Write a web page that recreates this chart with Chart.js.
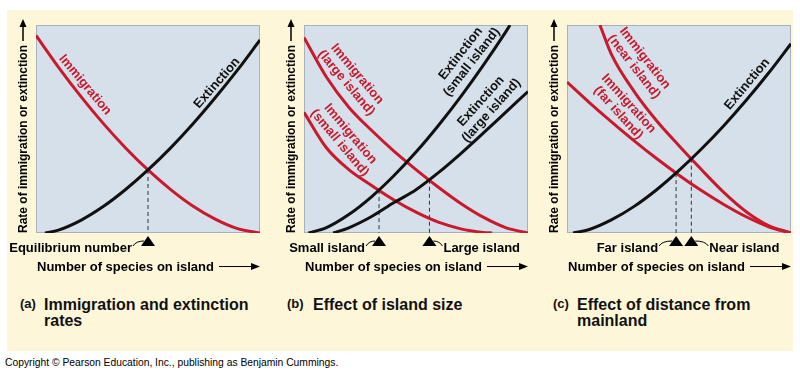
<!DOCTYPE html>
<html><head><meta charset="utf-8">
<script src="https://cdn.jsdelivr.net/npm/chart.js@4.4.1/dist/chart.umd.min.js"></script>
<style>
html,body{margin:0;padding:0;background:#fff;width:800px;height:374px;overflow:hidden;font-family:"Liberation Sans",Arial,sans-serif;color:#111;}
#cream{position:absolute;left:7px;top:10px;width:786px;height:341px;background:#fdf6d8;}
canvas{position:absolute;top:0;}
.tag{position:absolute;font-weight:bold;font-size:13px;line-height:13px;white-space:nowrap;}
.cap{position:absolute;font-weight:bold;font-size:16px;line-height:16px;white-space:nowrap;}
#copy{position:absolute;left:5px;top:357px;font-size:10.3px;line-height:12px;white-space:nowrap;color:#000;}
</style></head>
<body>
<div id="cream"></div>
<canvas id="pa" width="270" height="280" style="left:0px"></canvas>
<canvas id="pb" width="270" height="280" style="left:270px"></canvas>
<canvas id="pc" width="260" height="280" style="left:540px"></canvas>
<div class="tag" style="left:20px;top:297px">(a)</div>
<div class="cap" style="left:44px;top:297px">Immigration and extinction<br>rates</div>
<div class="tag" style="left:287px;top:297px">(b)</div>
<div class="cap" style="left:313px;top:297px">Effect of island size</div>
<div class="tag" style="left:553px;top:297px">(c)</div>
<div class="cap" style="left:577px;top:297px">Effect of distance from<br>mainland</div>
<div id="copy">Copyright © Pearson Education, Inc., publishing as Benjamin Cummings.</div>
<script>
// ---- text ----
const xTitle = 'Number of species on island';
const yTitle = 'Rate of immigration or extinction';

// ---- panel (a) ----
const aImmX = [0,1,2,3,4,5,6,7,8,9,10];
const aImmY = [9.5,7.98,6.57,5.27,4.09,3.03,2.10,1.30,0.67,0.21,0];
const aExtX = [0.4,1,2,3,4,5,6,7,8,9,10];
const aExtY = [0,0.14,0.61,1.27,2.09,3.03,4.08,5.24,6.50,7.84,9.28];
const aEqX = [5.0];
const aEqY = [3.03];
const aEqLabels = ['Equilibrium number'];

// ---- panel (b) ----
const bImmLargeX = [0,1,2,3,4,5,6,7,8,9,10];
const bImmLargeY = [9.4,7.5,6.05,4.95,3.95,3.05,2.2,1.42,0.76,0.26,0];
const bImmSmallX = [0,1,2,3,4,5,6,7,8,8.4];
const bImmSmallY = [5.8,4.1,3.05,2.3,1.6,1.0,0.52,0.2,0.03,0];
const bExtSmallX = [0.2,1,2,3,4,5,6,7,8,9,9.2];
const bExtSmallY = [0,0.26,0.89,1.73,2.74,3.89,5.17,6.56,8.06,9.66,10];
const bExtLargeX = [1.3,2,3,4,5,6,7,8,9,10];
const bExtLargeY = [0,0.25,0.78,1.45,2.08,2.9,3.82,4.8,5.8,6.8];
const bEqX = [3.35,5.6];
const bEqY = [2.06,2.56];
const bEqLabels = ['Small island','Large island'];

// ---- panel (c) ----
const cImmNearX = [1.47,2,3,4,5,6,7,8,9,10];
const cImmNearY = [10,8.55,6.8,5.4,4.2,3.05,1.95,1.02,0.35,0];
const cImmFarX = [0,1,2,3,4,5,6,7,8,9,10];
const cImmFarY = [7.26,6.27,5.33,4.43,3.58,2.78,2.04,1.37,0.78,0.30,0];
const cExtX = [0.27,1,2,3,4,5,6,7,8,9,10];
const cExtY = [0,0.17,0.64,1.28,2.08,3.01,4.04,5.16,6.38,7.69,9.10];
const cEqX = [4.87,5.55];
const cEqY = [2.88,3.57];
const cEqLabels = ['Far island','Near island'];

const RED = '#c9192c', BLACK = '#111111';
const FONT = '"Liberation Sans", Arial, sans-serif';

function pts(xs, ys){ return xs.map((x,i)=>({x:x,y:ys[i]})); }
function curve(xs, ys, color){
  return {data:pts(xs,ys), borderColor:color, borderWidth:3, showLine:true, pointRadius:0,
          cubicInterpolationMode:'monotone', fill:false};
}
function dashes(eqX, eqY){
  return eqX.map((x,i)=>({data:[{x:x,y:eqY[i]},{x:x,y:0}], borderColor:'#333', borderWidth:1,
          borderDash:[4,3], showLine:true, pointRadius:0, fill:false}));
}

function overlay(cfg){
  return {
    id:'overlay',
    beforeDatasetsDraw(chart){
      const {ctx, chartArea:ca} = chart;
      ctx.save();
      ctx.fillStyle = '#d6e0ea';
      ctx.fillRect(ca.left, ca.top, ca.right-ca.left, ca.bottom-ca.top);
      ctx.strokeStyle = '#a7b2bd'; ctx.lineWidth = 1;
      ctx.strokeRect(ca.left+0.5, ca.top+0.5, ca.right-ca.left-1, ca.bottom-ca.top-1);
      ctx.restore();
    },
    afterDatasetsDraw(chart){
      const {ctx, chartArea:ca, scales} = chart;
      const xs = scales.x, ys = scales.y;
      ctx.save();
      cfg.curveLabels.forEach(l=>{
        const px = xs.getPixelForValue(l.x), py = ys.getPixelForValue(l.y);
        ctx.save(); ctx.translate(px,py); ctx.rotate(l.angle*Math.PI/180);
        ctx.font = 'bold 13px '+FONT; ctx.fillStyle = l.color;
        ctx.textAlign = 'center'; ctx.textBaseline = 'middle';
        const n = l.lines.length;
        l.lines.forEach((t,i)=>ctx.fillText(t, 0, (i-(n-1)/2)*14));
        ctx.restore();
      });
      ctx.fillStyle = '#000'; ctx.strokeStyle = '#000';
      cfg.eqX.forEach((v,i)=>{
        const px = xs.getPixelForValue(v);
        const t = ca.bottom+3;
        ctx.beginPath(); ctx.moveTo(px,t); ctx.lineTo(px+7,t+10); ctx.lineTo(px-7,t+10); ctx.closePath(); ctx.fill();
        const side = cfg.sides[i];
        ctx.font = 'bold 13px '+FONT; ctx.textBaseline = 'alphabetic';
        const base = ca.bottom+19;
        ctx.lineWidth = 1;
        if(side==='left'){
          ctx.textAlign = 'right';
          const tx = px - cfg.gap[i];
          ctx.fillText(cfg.labels[i], tx, base);
          ctx.beginPath(); ctx.moveTo(tx+1, ca.bottom+13);
          ctx.quadraticCurveTo(tx+4, ca.bottom+8, px-4, ca.bottom+8); ctx.stroke();
        } else {
          ctx.textAlign = 'left';
          const tx = px + cfg.gap[i];
          ctx.fillText(cfg.labels[i], tx, base);
          ctx.beginPath(); ctx.moveTo(tx-1, ca.bottom+13);
          ctx.quadraticCurveTo(tx-4, ca.bottom+8, px+4, ca.bottom+8); ctx.stroke();
        }
      });
      ctx.font = 'bold 13px '+FONT; ctx.textAlign='left'; ctx.textBaseline='alphabetic';
      ctx.fillText(xTitle, ca.left+1, ca.bottom+38);
      const xw = ctx.measureText(xTitle).width;
      const ay = ca.bottom+33.5;
      ctx.lineWidth = 1;
      ctx.beginPath(); ctx.moveTo(ca.left+1+xw+5, ay); ctx.lineTo(ca.right-6, ay); ctx.stroke();
      ctx.beginPath(); ctx.moveTo(ca.right, ay); ctx.lineTo(ca.right-9, ay-3.5); ctx.lineTo(ca.right-9, ay+3.5); ctx.closePath(); ctx.fill();
      ctx.save(); ctx.translate(ca.left-12, ca.bottom); ctx.rotate(-Math.PI/2);
      ctx.font = 'bold 12px '+FONT; ctx.textAlign='left'; ctx.textBaseline='middle';
      ctx.fillText(yTitle, 0, 0);
      const yw = ctx.measureText(yTitle).width;
      const end = ca.bottom - ca.top + 6;
      ctx.lineWidth = 1.5;
      ctx.beginPath(); ctx.moveTo(yw+4, -1); ctx.lineTo(end-6, -1); ctx.stroke();
      ctx.beginPath(); ctx.moveTo(end, -1); ctx.lineTo(end-8, -4.5); ctx.lineTo(end-8, 2.5); ctx.closePath(); ctx.fill();
      ctx.restore();
      ctx.restore();
    }
  };
}

function makeChart(id, pad, datasets, cfg){
  return new Chart(document.getElementById(id), {
    type:'scatter',
    data:{datasets:datasets},
    options:{
      responsive:false, animation:false, devicePixelRatio:1,
      layout:{padding:pad},
      plugins:{legend:{display:false}, tooltip:{enabled:false}},
      scales:{
        x:{type:'linear', min:0, max:10, display:false},
        y:{type:'linear', min:0, max:10, display:false}
      }
    },
    plugins:[overlay(cfg)]
  });
}

makeChart('pa', {left:36,right:10,top:25,bottom:47},
  [curve(aExtX,aExtY,BLACK), curve(aImmX,aImmY,RED)].concat(dashes(aEqX,aEqY)),
  {curveLabels:[
     {lines:['Immigration'], x:2.19, y:7.12, angle:50, color:RED},
     {lines:['Extinction'], x:8.08, y:7.21, angle:-49, color:BLACK}],
   eqX:aEqX, labels:aEqLabels, sides:['left'], gap:[16]});

makeChart('pb', {left:34,right:12,top:25,bottom:47},
  [curve(bExtSmallX,bExtSmallY,BLACK), curve(bExtLargeX,bExtLargeY,BLACK),
   curve(bImmLargeX,bImmLargeY,RED), curve(bImmSmallX,bImmSmallY,RED)].concat(dashes(bEqX,bEqY)),
  {curveLabels:[
     {lines:['Immigration','(large island)'], x:2.13, y:7.43, angle:50, color:RED},
     {lines:['Immigration','(small island)'], x:1.83, y:4.55, angle:50, color:RED},
     {lines:['Extinction','(small island)'], x:7.24, y:8.42, angle:-52, color:BLACK},
     {lines:['Extinction','(large island)'], x:8.13, y:6.11, angle:-48, color:BLACK}],
   eqX:bEqX, labels:bEqLabels, sides:['left','right'], gap:[14,14]});

makeChart('pc', {left:27,right:9,top:25,bottom:47},
  [curve(cExtX,cExtY,BLACK), curve(cImmNearX,cImmNearY,RED), curve(cImmFarX,cImmFarY,RED)].concat(dashes(cEqX,cEqY)),
  {curveLabels:[
     {lines:['Immigration','(near island)'], x:3.23, y:8.2, angle:52, color:RED},
     {lines:['Immigration','(far island)'], x:2.52, y:6.0, angle:48, color:RED},
     {lines:['Extinction'], x:8.04, y:7.16, angle:-50, color:BLACK}],
   eqX:cEqX, labels:cEqLabels, sides:['left','right'], gap:[18,18]});
</script>
</body></html>
